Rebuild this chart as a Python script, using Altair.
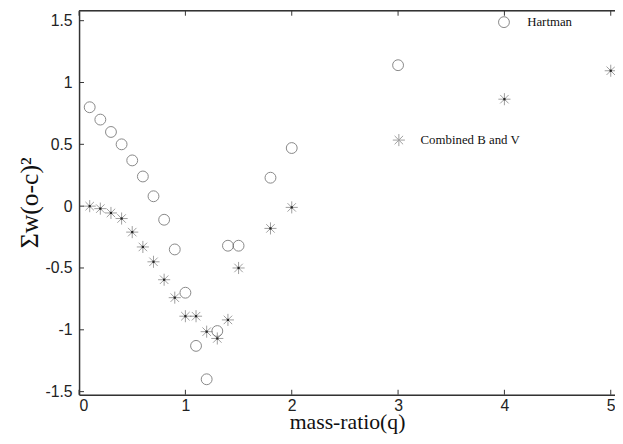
import altair as alt
import pandas as pd

# Hartman series
q_hart = [0.1, 0.2, 0.3, 0.4, 0.5, 0.6, 0.7, 0.8, 0.9, 1.0, 1.1, 1.2, 1.3, 1.4, 1.5, 1.8, 2.0, 3.0]
w_hart = [0.80, 0.70, 0.60, 0.50, 0.37, 0.24, 0.08, -0.11, -0.35, -0.70, -1.13, -1.40, -1.01, -0.32, -0.32, 0.23, 0.47, 1.14]

# Combined B and V series
q_comb = [0.1, 0.2, 0.3, 0.4, 0.5, 0.6, 0.7, 0.8, 0.9, 1.0, 1.1, 1.2, 1.3, 1.4, 1.5, 1.8, 2.0, 4.0, 5.0]
w_comb = [0.00, -0.02, -0.055, -0.10, -0.21, -0.33, -0.45, -0.595, -0.74, -0.89, -0.89, -1.015, -1.07, -0.92, -0.50, -0.18, -0.01, 0.865, 1.095]

x_ticks = [0, 1, 2, 3, 4, 5]
y_ticks = [-1.5, -1, -0.5, 0, 0.5, 1, 1.5]

series_names = ["Hartman", "Combined B and V"]

W, H = 543, 389
ASTERISK = "M-1,0L1,0M0,-1L0,1M-0.7,-0.7L0.7,0.7M-0.7,0.7L0.7,-0.7"

df_h = pd.DataFrame({"q": q_hart, "w": w_hart, "series": series_names[0]})
df_c = pd.DataFrame({"q": q_comb, "w": w_comb, "series": series_names[1]})
df_xt = pd.DataFrame({"q": x_ticks})
df_yt = pd.DataFrame({"w": y_ticks})

xs = alt.Scale(domain=[0, 5.04], nice=False, zero=False)
ys = alt.Scale(domain=[-1.525, 1.58], nice=False, zero=False)

x_axis = alt.Axis(
    values=x_ticks, labelExpr="datum.value + ''", tickSize=0, grid=False,
    domainColor="#333", domainWidth=1.5, labelFont="Liberation Sans", labelFontSize=16,
    labelColor="#222", labelPadding=3, title="mass-ratio(q)", titleFont="Liberation Serif",
    titleFontSize=22, titleFontWeight="normal", titleColor="#111", titleY=34,
    titleBaseline="alphabetic",
)
y_axis = alt.Axis(
    values=y_ticks, labelExpr="datum.value + ''", tickSize=0, grid=False,
    domainColor="#333", domainWidth=1.5, labelFont="Liberation Sans", labelFontSize=16,
    labelColor="#222", labelPadding=7, title="Σw(o-c)²", titleFont="Liberation Serif",
    titleFontSize=26, titleFontWeight="normal", titleColor="#111", titleX=-42, titleY=194,
    titleAngle=270, titleAlign="center", titleBaseline="alphabetic",
)

X = alt.X("q:Q", scale=xs, axis=x_axis)
Y = alt.Y("w:Q", scale=ys, axis=y_axis)

hart = alt.Chart(df_h).mark_point(filled=False, color="#555", strokeWidth=1, size=121).encode(
    x=X, y=Y,
    shape=alt.Shape("series:N", scale=alt.Scale(domain=[series_names[0]], range=["circle"]),
                    legend=alt.Legend(title=None, orient="none", legendX=424, legendY=5,
                                      symbolSize=121, symbolStrokeWidth=1, labelFont="Liberation Serif",
                                      labelFontSize=13, labelColor="#111", labelOffset=17, padding=0)),
)

comb = alt.Chart(df_c).mark_point(filled=False, color="#777", strokeWidth=1, size=150).encode(
    x=X, y=Y,
    shape=alt.Shape("series:N", scale=alt.Scale(domain=[series_names[1]], range=[ASTERISK]),
                    legend=alt.Legend(title=None, orient="none", legendX=317, legendY=124,
                                      symbolSize=150, symbolStrokeWidth=1, labelFont="Liberation Serif",
                                      labelFontSize=13, labelColor="#111", labelOffset=15, padding=0)),
)

comb_center = alt.Chart(df_c).mark_square(color="#222", size=5, opacity=1).encode(x=X, y=Y)

left_ticks = alt.Chart(df_yt).mark_rule(color="#333", strokeWidth=1).encode(
    y=Y, x=alt.value(0), x2=alt.value(5))
bottom_ticks = alt.Chart(df_xt).mark_rule(color="#333", strokeWidth=1).encode(
    x=X, y=alt.value(H), y2=alt.value(H - 5))
top_ticks = alt.Chart(df_xt).mark_rule(color="#333", strokeWidth=1).encode(
    x=X, y=alt.value(0), y2=alt.value(5))
top_border = alt.Chart(df_xt.head(1)).mark_rule(color="#333", strokeWidth=1.5).encode(
    x=alt.value(0), x2=alt.value(W), y=alt.value(0))

chart = alt.layer(
    hart, comb, comb_center, top_border, top_ticks, bottom_ticks, left_ticks
).resolve_scale(shape="independent").resolve_legend(shape="independent").properties(
    width=W, height=H,
    autosize=alt.AutoSizeParams(type="none"),
    padding={"left": 72, "top": 0, "right": 0, "bottom": 39},
).configure_view(stroke=None).configure(background="white")

chart.save("out.html", embed_options={"renderer": "svg", "actions": False})
